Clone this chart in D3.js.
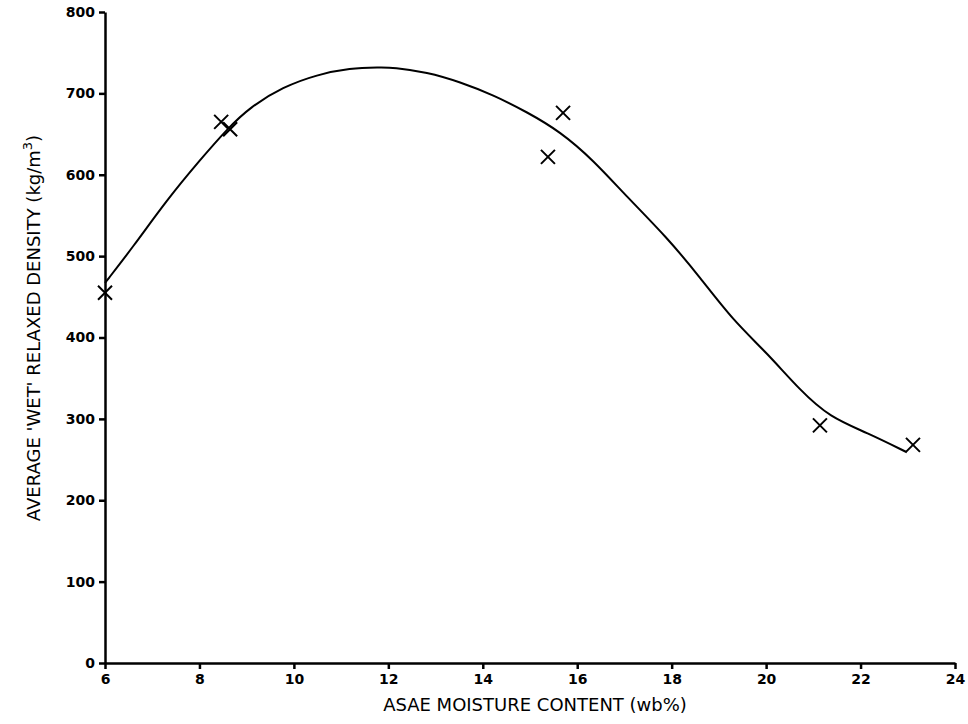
<!DOCTYPE html>
<html>
<head>
<meta charset="utf-8">
<script src="https://cdn.jsdelivr.net/npm/d3@7"></script>
<style>
  body { margin: 0; background: #fff; }
  svg { display: block; }
  .tick text { font-family: "DejaVu Sans", sans-serif; font-weight: bold; font-size: 14px; fill: #000; }
  .domain, .tick line { stroke: #000; stroke-width: 2.5px; }
</style>
</head>
<body>
<div id="chart"></div>
<script>
// measured points (moisture wb%, density kg/m3)
var pointX = [6.0, 8.46, 8.65, 15.38, 15.70, 21.14, 23.11];
var pointY = [455, 665, 656, 622, 676, 292, 268];

// fitted curve
var curveX = [6.0, 6.59, 7.31, 8.01, 8.60, 9.07, 9.77, 10.49, 11.19, 11.82, 12.10, 12.82, 13.52, 14.22, 14.94, 15.64, 16.34, 17.05, 17.90, 18.60, 19.30, 20.02, 20.72, 21.35, 22.14, 22.98];
var curveY = [467, 511, 569, 618, 657, 683, 708, 723, 731, 732, 732, 726, 714, 698, 677, 653, 618, 573, 523, 474, 421, 381, 335, 302, 283, 259];

var xTicks = [6, 8, 10, 12, 14, 16, 18, 20, 22, 24];
var yTicks = [0, 100, 200, 300, 400, 500, 600, 700, 800];

var width = 968, height = 724;
var svg = d3.select("#chart").append("svg")
  .attr("width", width)
  .attr("height", height);

var x = d3.scaleLinear().domain([6, 24]).range([105, 955]);
var y = d3.scaleLinear().domain([0, 800]).range([663, 12]);

svg.append("g")
  .attr("transform", "translate(0,663)")
  .call(d3.axisBottom(x).tickValues(xTicks).tickSize(6).tickSizeOuter(0).tickPadding(5));

svg.append("g")
  .attr("transform", "translate(105,0)")
  .call(d3.axisLeft(y).tickValues(yTicks).tickSize(6).tickSizeOuter(0).tickPadding(4));

var line = d3.line()
  .x(function(d) { return x(d[0]); })
  .y(function(d) { return y(d[1]); })
  .curve(d3.curveBasis);

svg.append("path")
  .datum(d3.zip(curveX, curveY))
  .attr("fill", "none")
  .attr("stroke", "#000")
  .attr("stroke-width", 2)
  .attr("d", line);

var s = 7;
svg.selectAll(".mark")
  .data(d3.zip(pointX, pointY))
  .enter().append("path")
  .attr("class", "mark")
  .attr("fill", "none")
  .attr("stroke", "#000")
  .attr("stroke-width", 2)
  .attr("d", function(d) {
    var cx = x(d[0]), cy = y(d[1]);
    return "M" + (cx - s) + "," + (cy - s) + "L" + (cx + s) + "," + (cy + s) +
           "M" + (cx - s) + "," + (cy + s) + "L" + (cx + s) + "," + (cy - s);
  });

svg.append("text")
  .attr("x", 535)
  .attr("y", 711)
  .attr("text-anchor", "middle")
  .style("font-family", "DejaVu Sans, sans-serif")
  .style("font-size", "18px")
  .text("ASAE MOISTURE CONTENT (wb%)");

var yl = svg.append("text")
  .attr("transform", "translate(40,328) rotate(-90)")
  .attr("text-anchor", "middle")
  .style("font-family", "DejaVu Sans, sans-serif")
  .style("font-size", "18px");
yl.append("tspan").text("AVERAGE 'WET' RELAXED DENSITY (kg/m");
yl.append("tspan").attr("dy", -8).style("font-size", "13px").text("3");
yl.append("tspan").attr("dy", 8).text(")");
</script>
</body>
</html>
